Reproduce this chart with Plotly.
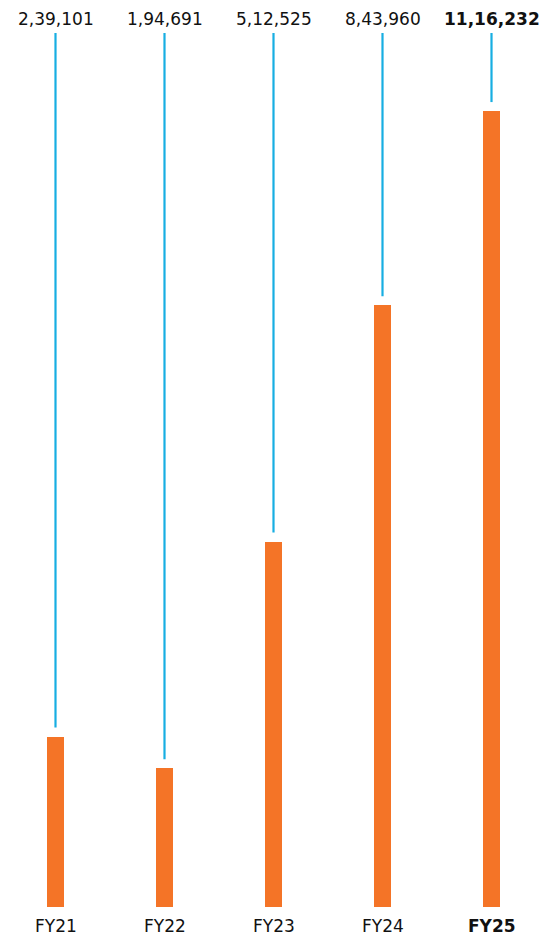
import plotly.graph_objects as go

# Yearly totals
years = ["FY21", "FY22", "FY23", "FY24", "FY25"]
values = [239101, 194691, 512525, 843960, 1116232]
highlight = "FY25"

BAR_COLOR = "#f47427"
LINE_COLOR = "#17aee2"
TEXT_COLOR = "#111111"
FONT = "'DejaVu Sans', sans-serif"

W, H = 551, 938
MB = 31                       # bottom margin under the baseline
plot_h = H - MB
y_max = 1272000               # top of the value axis
px_per_unit = plot_h / y_max
gap = 9 / px_per_unit         # space between leader line and bar top
line_top = (plot_h - 33) / px_per_unit


def indian_format(n):
    s = str(n)
    if len(s) <= 3:
        return s
    head, tail = s[:-3], s[-3:]
    groups = []
    while len(head) > 2:
        groups.insert(0, head[-2:])
        head = head[:-2]
    if head:
        groups.insert(0, head)
    return ",".join(groups) + "," + tail


fig = go.Figure()

fig.add_trace(go.Bar(
    x=list(range(len(years))), y=values,
    width=0.156, marker=dict(color=BAR_COLOR, line=dict(width=0)),
    hoverinfo="skip", showlegend=False,
))

for i, v in enumerate(values):
    fig.add_trace(go.Scatter(
        x=[i, i], y=[v + gap, line_top], mode="lines",
        line=dict(color=LINE_COLOR, width=2.2),
        hoverinfo="skip", showlegend=False,
    ))
    label = indian_format(v)
    cat = years[i]
    bold = cat == highlight
    fig.add_annotation(
        x=i, y=(plot_h - 19) / plot_h, xref="x", yref="paper",
        text=f"<b>{label}</b>" if bold else label, showarrow=False,
        font=dict(family=FONT, size=17, color=TEXT_COLOR),
        xanchor="center", yanchor="middle",
    )
    fig.add_annotation(
        x=i, y=-(926 - plot_h) / plot_h, xref="x", yref="paper",
        text=f"<b>{cat}</b>" if bold else cat, showarrow=False,
        font=dict(family=FONT, size=17, color=TEXT_COLOR),
        xanchor="center", yanchor="middle",
    )

fig.update_layout(
    width=W, height=H,
    margin=dict(l=0, r=0, t=0, b=MB),
    paper_bgcolor="white", plot_bgcolor="white",
    xaxis=dict(range=[-55.5 / 109, (W - 55.5) / 109], visible=False, fixedrange=True),
    yaxis=dict(range=[0, y_max], visible=False, fixedrange=True),
    bargap=0,
)

fig.write_html("out.html", config={"displayModeBar": False})
